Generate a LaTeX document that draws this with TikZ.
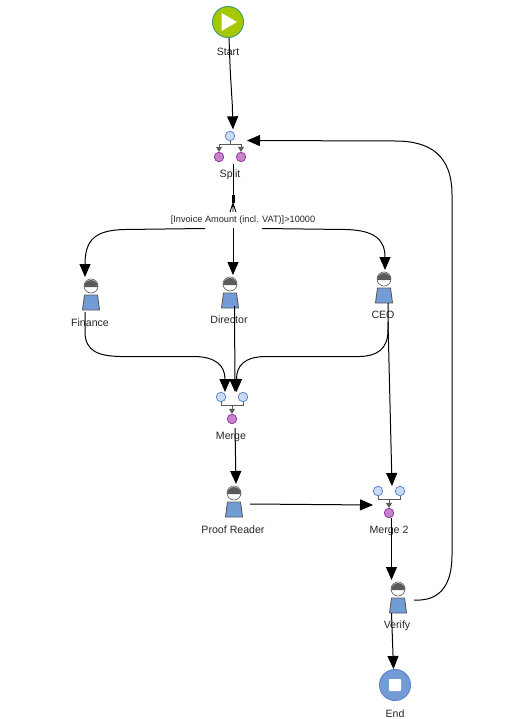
\documentclass[tikz,border=0pt]{standalone}
\usepackage{fontspec}
\setmainfont{Liberation Sans}
\usetikzlibrary{arrows.meta,calc}
\definecolor{pblue}{HTML}{739CD6}
\definecolor{pgrey}{HTML}{5A5A5A}
\definecolor{bluefill}{HTML}{CADCF4}
\definecolor{blueline}{HTML}{5F86CC}
\definecolor{purplefill}{HTML}{C384C9}
\definecolor{purpleline}{HTML}{9A35A8}
\definecolor{startfill}{HTML}{A6C800}
\definecolor{startline}{HTML}{3F9E78}
\tikzset{
  x=1pt,y=-1pt,
  lbl/.style={font=\fontsize{10.6}{12}\selectfont,inner sep=0pt,text=black!85},
  cond/.style={font=\fontsize{9.2}{10}\selectfont,inner sep=0pt,text=black!85},
  inport/.style={circle,draw=blueline,fill=bluefill,line width=0.8pt,minimum size=9.5pt,inner sep=0pt},
  outport/.style={circle,draw=purpleline,fill=purplefill,line width=0.8pt,minimum size=9.5pt,inner sep=0pt},
  conn/.style={line width=1pt,black},
  flow/.style={conn,-{Triangle[length=13pt,width=11pt]}},
  tiny/.style={draw=pgrey,line width=1pt},
  tinyarrow/.style={tiny,-{Triangle[length=5pt,width=6pt]}},
  body/.style={minimum width=17pt,minimum height=15pt,inner sep=0pt},
  bodyshape/.style={draw=pgrey,fill=pblue,line width=0.9pt},
  head/.style={circle,draw=pgrey,fill=white,line width=0.6pt,minimum size=14pt,inner sep=0pt},
}
\newcommand{\actor}[5]{% name, x, y of head centre, label offset, label
  \node[body] (#1) at (#2,#3+16.5) {};
  \draw[bodyshape] (#2-6.5,#3+9) -- (#2+6.5,#3+9) -- (#2+8.5,#3+24) -- (#2-8.5,#3+24) -- cycle;
  \node[head] (#1head) at (#2,#3) {};
  \fill[pgrey] (#2-7,#3+1) arc[start angle=180,end angle=360,radius=7] -- cycle;
  \node[lbl] (#1label) at (#2-1,#3+#4) {#5};
}
\begin{document}
\begin{tikzpicture}
\useasboundingbox (0,0) rectangle (510,719);
\fill[white] (0,0) rectangle (510,719);

% start and end
\node[circle,draw=startline,fill=startfill,line width=1pt,minimum size=31pt,inner sep=0pt] (start) at (228,22) {};
\fill[white] (221.5,13) -- (237,22) -- (221.5,31) -- cycle;
\node[lbl] (startlabel) at (228,51.5) {Start};
\node[circle,draw=blueline,fill=pblue,line width=1pt,minimum size=31pt,inner sep=0pt] (end) at (395,685) {};
\node[fill=white,minimum size=12pt,inner sep=0pt,rounded corners=0.8pt] (endsq) at (395,685) {};
\node[lbl] (endlabel) at (395,713.5) {End};

% split
\node[inport] (splitin) at (230,136) {};
\node[outport] (splita) at (219,157) {};
\node[outport] (splitb) at (241,157) {};
\coordinate (splitbar) at (230,144.5);
\draw[tiny] (splitin) -- (splitbar);
\draw[tiny] (219,151) -- (219,144.5) -- (241,144.5) -- (241,151);
\draw[tinyarrow] (219,146) -- (splita.north);
\draw[tinyarrow] (241,146) -- (splitb.north);
\node[lbl] (splitlabel) at (230,175) {Split};

% merge
\node[inport] (mergea) at (221,397) {};
\node[inport] (mergeb) at (243,397) {};
\node[outport] (mergeout) at (232,419) {};
\draw[tiny] (mergea.south) -- (221,405) -- (243,405) -- (mergeb.south);
\draw[tinyarrow] (232,405) -- (mergeout.north);
\node[lbl] (mergelabel) at (231,437) {Merge};

% merge 2
\node[inport] (merge2a) at (378,491) {};
\node[inport] (merge2b) at (400,491) {};
\node[outport] (merge2out) at (389,513) {};
\draw[tiny] (merge2a.south) -- (378,499.5) -- (400,499.5) -- (merge2b.south);
\draw[tinyarrow] (389,499.5) -- (merge2out.north);
\node[lbl] (merge2label) at (389,531) {Merge 2};

% actors
\actor{finance}{91}{286}{37}{Finance}
\actor{director}{230}{284}{36}{Director}
\actor{ceo}{384}{279}{36}{CEO}
\actor{proof}{234}{493}{37}{Proof Reader}
\actor{verify}{398}{589}{37}{Verify}

% condition label
\node[cond] (cond) at (243,220) {[Invoice Amount (incl. VAT)]>10000};

% free ends of connectors
\coordinate (fanstart) at (233,164);
\coordinate (fanthick) at (233,195);
\coordinate (fanneck) at (233,203);
\coordinate (condleft) at (205,228.5);
\coordinate (condmid) at (233,228);
\coordinate (condright) at (262,228.5);
\coordinate (finout) at (85,312);
\coordinate (dirout) at (234.5,306);
\coordinate (ceoout) at (388,303);
\coordinate (proofout) at (250,504);
\coordinate (verout) at (414,600);

% connectors
\draw[flow] (start.south) ++(1,0) -- (230.3,72) -- (232.3,105) -- ($(splitin.north)+(3,-1.5)$);
\draw[conn] (fanstart) -- (fanthick);
\draw[line width=3pt] (fanthick) -- (fanneck);
\draw[line width=0.8pt] (fanneck) -- (230,212) (fanneck) -- (233,212) (fanneck) -- (236,212);
\draw[flow] (condleft) -- (125,229.5) .. controls (95,230) and (85,240) .. (85,277);
\draw[flow] (condmid) -- (233,275);
\draw[flow] (condright) -- (345,229.5) .. controls (375,230) and (385,240) .. (385,270);
\draw[flow] (finout) -- (85,332) .. controls (85,352) and (100,356) .. (120,356.5) -- (195,356.5) .. controls (215,357) and (225,365) .. (225,392);
\draw[flow] (dirout) -- (235,392);
\draw[flow] (ceoout) -- (388,330) .. controls (388,350) and (376,356) .. (360,356.5) -- (265,356.5) .. controls (245,357) and (236.5,365) .. (236.5,392);
\draw[flow] (ceoout) ++(0,19) -- (392,486);
\draw[flow] (mergeout.south) ++(3,4) -- (236,484);
\draw[flow] (proofout) -- (373,505);
\draw[flow] (merge2out.south) ++(2.5,0) -- (391.5,580);
\draw[flow] (verify.south) ++(-6.5,0) -- (393.5,669);
\draw[flow] (verout) -- (420,600) .. controls (440,599) and (452,585) .. (452,555) -- (452,195) .. controls (452,155) and (430,141) .. (395,141) -- (247,140.5);
\end{tikzpicture}
\end{document}
